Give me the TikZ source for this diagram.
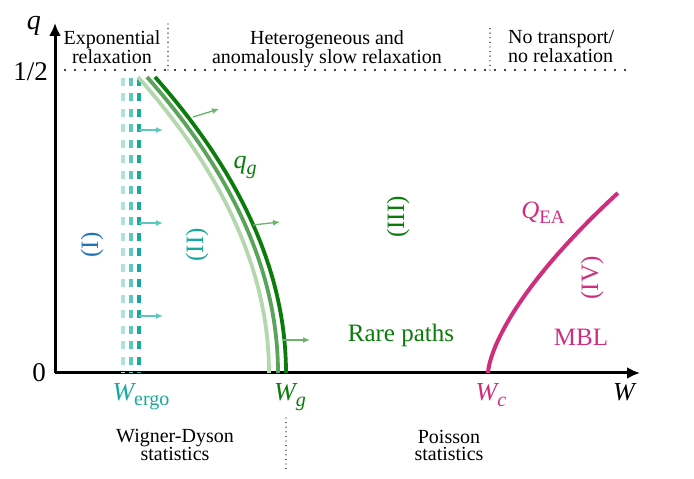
\documentclass[tikz,border=0pt]{standalone}
\usepackage{fontspec}
\setmainfont{Liberation Serif}
\usepackage{xcolor}
\usepackage{tikz}
\usetikzlibrary{calc,arrows.meta,positioning}

\definecolor{ergodark}{HTML}{17A99D}
\definecolor{ergomid}{HTML}{5CC8BE}
\definecolor{ergolight}{HTML}{ADE2DD}
\definecolor{regionblue}{HTML}{1F74B8}
\definecolor{glassdark}{HTML}{0B7B0B}
\definecolor{glassmid}{HTML}{5AA35A}
\definecolor{glasslight}{HTML}{B4D8AE}
\definecolor{glassarrow}{HTML}{6DB36D}
\definecolor{mblpink}{HTML}{CF2E7D}

\begin{document}
\begin{tikzpicture}[x=1pt,y=1pt,>=Latex,line width=0.4pt,
  axis/.style={line width=3pt,-{Latex[length=13pt,width=12pt]}},
  dotbig/.style={line width=2.4pt,line cap=round,dash pattern=on 0pt off 10pt},
  dotsmall/.style={line width=1.4pt,line cap=round,dash pattern=on 0pt off 4.6pt},
  ergoline/.style={line width=3.5pt,dash pattern=on 8pt off 7.5pt},
  push/.style={line width=1.3pt,-{Latex[length=7pt,width=6pt]}},
  headtext/.style={inner sep=0pt,align=center,anchor=north,font=\fontsize{20}{17}\selectfont},
  axlabel/.style={inner sep=0pt,anchor=base,font=\fontsize{26}{26}\selectfont},
  regionlabel/.style={inner sep=0pt,font=\fontsize{25}{25}\selectfont},
  numeral/.style={inner sep=0pt,rotate=90,font=\fontsize{25}{25}\selectfont}]
  \useasboundingbox (-55,-106) rectangle (639,373);

  % Axes
  \coordinate (o) at (0,0);
  \coordinate (xend) at (585,0);
  \coordinate (yend) at (0,350);
  \draw[axis] (o) -- (xend);
  \draw[axis] (o) -- (yend);
  \node[inner sep=0pt,font=\fontsize{28}{28}\selectfont\itshape] (qlab) at (-21,347) {q};
  \node[inner sep=0pt,anchor=east,font=\fontsize{27}{27}\selectfont] (half) at (-7,301) {1/2};
  \node[inner sep=0pt,anchor=east,font=\fontsize{27}{27}\selectfont] (zero) at (-9,0) {0};
  \node[axlabel] (wlab) at (569,-28) {\itshape W};

  % q = 1/2 line and region separators
  \coordinate (hl) at (0,303);
  \coordinate (hr) at (573,303);
  \draw[dotbig] (hl) -- (hr);
  \coordinate (s1b) at (113,303);
  \coordinate (s1t) at (113,351);
  \draw[dotsmall] (s1b) -- (s1t);
  \coordinate (s2b) at (435,303);
  \coordinate (s2t) at (435,345);
  \draw[dotsmall] (s2b) -- (s2t);
  \coordinate (s3t) at (231,-45);
  \coordinate (s3b) at (231,-97);
  \draw[dotsmall] (s3t) -- (s3b);

  % headings
  \node[headtext] (expo) at (57,343) {Exponential\\relaxation};
  \node[headtext] (hetero) at (272,343) {Heterogeneous and\\anomalously slow relaxation};
  \node[headtext,align=left,anchor=north west] (notrans) at (453,343) {No transport/\\no relaxation};
  \node[headtext] (wd) at (120,-56) {Wigner-Dyson\\statistics};
  \node[headtext] (poisson) at (394,-57) {Poisson\\statistics};

  % W_ergo dashed lines and arrows
  \foreach \x/\c in {68/ergolight,76/ergomid,84/ergodark} {
    \draw[ergoline,\c] (\x,295) -- (\x,0);
  }
  \foreach \y [count=\i] in {243,150,57} {
    \coordinate (ea\i) at (84,\y);
    \coordinate (eb\i) at (108,\y);
    \draw[push,ergomid] (ea\i) -- (eb\i);
  }
  \node[axlabel,ergodark] (wergo) at (86,-28) {\itshape W\upshape\raisebox{-5pt}{\fontsize{20}{20}\selectfont ergo}};

  % glass transition lines q_g
  \foreach \b/\c in {214/glasslight,223/glassmid,231/glassdark} {
    \draw[line width=3.8pt,\c] plot[domain=0:296,samples=50,variable=\h] ({\b-131*(\h/296)^2},\h);
  }
  \foreach \ax/\ay/\bx/\by [count=\i] in {138/256/164/264,198/148/225/151,228/33/255/33} {
    \coordinate (ga\i) at (\ax,\ay);
    \coordinate (gb\i) at (\bx,\by);
    \draw[push,glassarrow] (ga\i) -- (gb\i);
  }
  \node[axlabel,glassdark] (wg) at (235,-28) {\itshape W\raisebox{-6pt}{\fontsize{20}{20}\selectfont g}};
  \node[inner sep=0pt,glassdark,font=\fontsize{26}{26}\selectfont\itshape] (qg) at (190,205) {q\raisebox{-6pt}{\fontsize{20}{20}\selectfont g}};

  % MBL line Q_EA
  \draw[line width=4pt,mblpink] plot[domain=0:180,samples=50,variable=\h] ({433+25*(\h/60)*sqrt(\h/60)},\h);
  \node[axlabel,mblpink] (wc) at (436,-28) {\itshape W\raisebox{-6pt}{\fontsize{20}{20}\selectfont c}};
  \node[inner sep=0pt,mblpink,font=\fontsize{25}{25}\selectfont] (qea) at (488,160) {\itshape Q\upshape\raisebox{-5pt}{\fontsize{19}{19}\selectfont EA}};

  % regions
  \node[numeral,regionblue] (r1) at (37,128) {(I)};
  \node[numeral,ergodark] (r2) at (142,128) {(II)};
  \node[numeral,glassdark] (r3) at (343,156) {(III)};
  \node[numeral,mblpink] (r4) at (537,95) {(IV)};
  \node[regionlabel,glassdark] (rare) at (346,38) {Rare paths};
  \node[regionlabel,mblpink] (mbl) at (526,36) {MBL};
\end{tikzpicture}
\end{document}
